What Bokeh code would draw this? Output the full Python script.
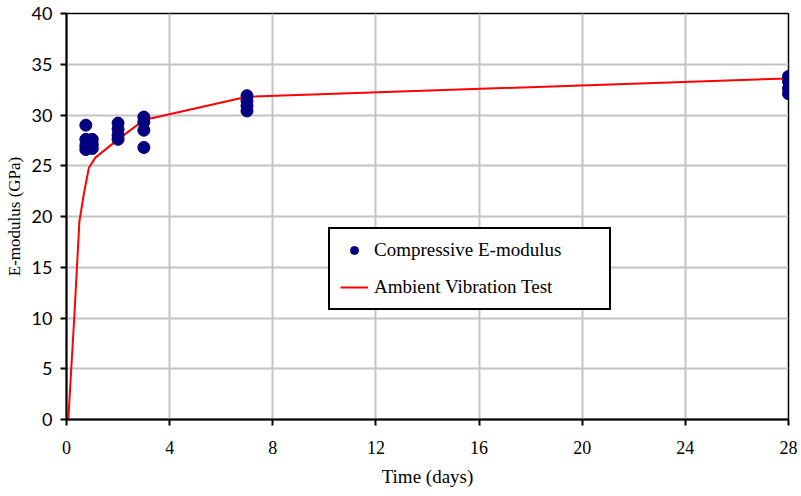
from bokeh.plotting import figure
from bokeh.models import FixedTicker, Legend, LegendItem
from bokeh.embed import file_html
from bokeh.resources import INLINE

# Compressive E-modulus measurements
t_comp = [0.75, 0.75, 0.75, 0.75, 1.0, 1.0, 1.0, 2, 2, 2, 2, 3, 3, 3, 3, 7, 7, 7, 7, 28, 28, 28, 28]
e_comp = [29.0, 27.6, 27.0, 26.6, 27.6, 27.1, 26.7, 29.2, 28.6, 28.0, 27.6,
          29.8, 29.3, 28.5, 26.8, 31.9, 31.4, 30.9, 30.4, 33.8, 33.3, 32.6, 32.1]

# Ambient vibration test curve
t_avt = [0.07, 0.3, 0.5, 0.67, 0.87, 1.12, 2, 3, 7, 28]
e_avt = [0.0, 10.0, 19.5, 22.2, 24.8, 25.8, 27.6, 29.5, 31.8, 33.6]

x_ticks = [0, 4, 8, 12, 16, 20, 24, 28]
y_ticks = [0, 5, 10, 15, 20, 25, 30, 35, 40]

p = figure(width=801, height=496, x_range=(0, 28), y_range=(0, 40),
           output_backend="svg", toolbar_location=None,
           min_border_left=66, min_border_right=13, min_border_top=13, min_border_bottom=77)

r_line = p.line(t_avt, e_avt, line_color="#ff0000", line_width=2)
r_pts = p.scatter(t_comp, e_comp, size=12, fill_color="#000080", line_color="#000080")

p.xaxis.ticker = FixedTicker(ticks=x_ticks)
p.yaxis.ticker = FixedTicker(ticks=y_ticks)
p.xaxis.minor_tick_line_color = None
p.yaxis.minor_tick_line_color = None

for ax in (p.xaxis[0], p.yaxis[0]):
    ax.axis_line_color = "black"
    ax.axis_line_width = 2
    ax.major_tick_line_color = "black"
    ax.major_tick_line_width = 2
    ax.major_tick_in = 0
    ax.major_tick_out = 6
    ax.major_label_text_color = "black"
    ax.axis_label_text_color = "black"
    ax.axis_label_text_font_style = "normal"

p.xaxis.axis_label = "Time (days)"
p.xaxis.axis_label_text_font = "Liberation Serif"
p.xaxis.axis_label_text_font_size = "19px"
p.xaxis.major_label_text_font = "Liberation Serif"
p.xaxis.major_label_text_font_size = "18px"
p.xaxis.major_label_standoff = 15
p.xaxis.axis_label_standoff = 9

p.yaxis.axis_label = "E-modulus (GPa)"
p.yaxis.axis_label_text_font = "Liberation Serif"
p.yaxis.axis_label_text_font_size = "17px"
p.yaxis.major_label_text_font = "Lato"
p.yaxis.major_label_text_font_size = "18px"
p.yaxis.major_label_standoff = 8
p.yaxis.axis_label_standoff = 5

p.xgrid.grid_line_color = "#c4c4c4"
p.ygrid.grid_line_color = "#c4c4c4"
p.xgrid.grid_line_width = 2
p.ygrid.grid_line_width = 2

p.outline_line_color = "black"
p.outline_line_width = 1.5
p.outline_line_alpha = 1
p.background_fill_color = "white"
p.border_fill_color = "white"

legend = Legend(items=[LegendItem(label="Compressive E-modulus", renderers=[r_pts]),
                       LegendItem(label="Ambient Vibration Test", renderers=[r_line])],
                location=(262, 109))
legend.border_line_color = "black"
legend.border_line_width = 2
legend.border_line_alpha = 1
legend.label_text_font = "Liberation Serif"
legend.label_text_font_size = "19px"
legend.label_text_color = "black"
legend.glyph_width = 28
legend.label_standoff = 6
legend.label_width = 225
legend.padding = 10
legend.spacing = 15
legend.margin = 0
legend.background_fill_alpha = 1
p.add_layout(legend, "center")

open("out.html", "w").write(file_html(p, INLINE))
